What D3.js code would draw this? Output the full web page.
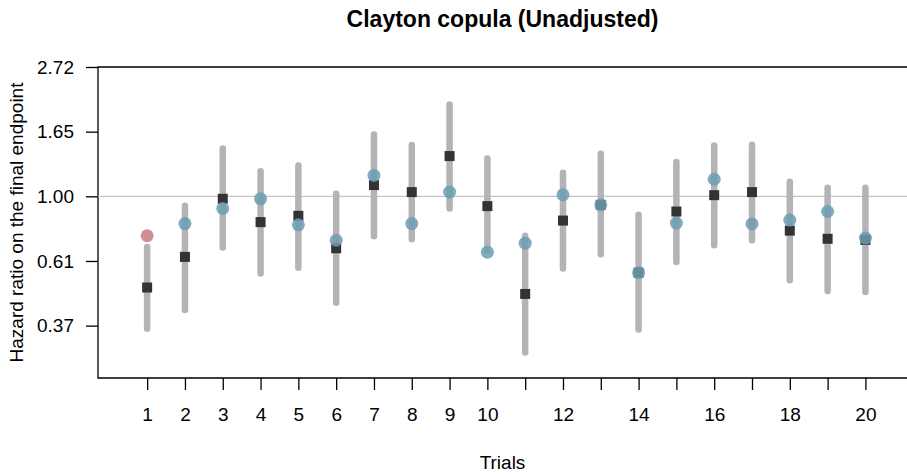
<!DOCTYPE html>
<html>
<head>
<meta charset="utf-8">
<script src="https://cdn.jsdelivr.net/npm/d3@7"></script>
<style>
  body { margin: 0; background: #fff; }
  svg { font-family: "Liberation Sans", Arial, sans-serif; }
</style>
</head>
<body>
<div id="chart"></div>
<script>
const trials = d3.range(1, 21)
const lower    = [0.359, 0.415, 0.673, 0.550, 0.576, 0.439, 0.735, 0.718, 0.910, 0.656, 0.299, 0.572, 0.639, 0.357, 0.602, 0.685, 0.712, 0.523, 0.481, 0.477]
const upper    = [0.676, 0.929, 1.448, 1.215, 1.269, 1.020, 1.613, 1.486, 2.035, 1.340, 0.737, 1.199, 1.390, 0.867, 1.303, 1.482, 1.490, 1.119, 1.068, 1.068]
const observed = [0.494, 0.626, 0.981, 0.819, 0.860, 0.669, 1.091, 1.033, 1.365, 0.927, 0.470, 0.829, 0.936, 0.554, 0.889, 1.009, 1.033, 0.767, 0.720, 0.714]
const predicted = [0.737, 0.810, 0.910, 0.981, 0.802, 0.712, 1.175, 0.810, 1.033, 0.649, 0.696, 1.012, 0.936, 0.554, 0.813, 1.141, 0.808, 0.832, 0.889, 0.724]
const outside = [1] // trials whose prediction is flagged in red
const yTicks = [-1, -0.5, 0, 0.5, 1]
const xLabels = [1, 2, 3, 4, 5, 6, 7, 8, 9, 10, 12, 14, 16, 18, 20]

const width = 907
const height = 475
const mLeft = 98, mRight = 907, mTop = 67, mBottom = 378
const fontFam = '"Liberation Sans", Arial, sans-serif'

const svg = d3.select('#chart').append('svg')
  .attr('width', width)
  .attr('height', height)

const x = d3.scaleLinear().domain([-0.3, 21.1]).range([mLeft, mRight])
// log hazard ratio scale
const y = d3.scaleLinear().domain([-1.405, 1]).range([mBottom, mTop])
const ly = v => y(Math.log(v))

// frame: left, top, bottom
svg.append('path')
  .attr('d', `M${mRight},${mTop}H${mLeft}V${mBottom}H${mRight}`)
  .attr('fill', 'none')
  .attr('stroke', '#000')
  .attr('stroke-width', 1.3)

svg.append('line')
  .attr('x1', mLeft).attr('x2', mRight)
  .attr('y1', ly(1)).attr('y2', ly(1))
  .attr('stroke', '#c4c4c4')
  .attr('stroke-width', 1.3)

const yAxis = d3.axisLeft(y)
  .tickValues(yTicks)
  .tickSize(12)
  .tickPadding(12)
  .tickFormat(d => Math.exp(d).toFixed(2))

svg.append('g')
  .attr('transform', `translate(${mLeft},0)`)
  .call(yAxis)
  .call(g => g.select('.domain').remove())
  .call(g => g.selectAll('line').attr('stroke-width', 1.3))
  .call(g => g.selectAll('text').attr('font-size', 19).attr('fill', '#000').attr('font-family', fontFam))

const xAxis = d3.axisBottom(x)
  .tickValues(trials)
  .tickSize(12)
  .tickPadding(18)
  .tickFormat(d => xLabels.includes(d) ? d : '')

svg.append('g')
  .attr('transform', `translate(0,${mBottom})`)
  .call(xAxis)
  .call(g => g.select('.domain').remove())
  .call(g => g.selectAll('line').attr('stroke-width', 1.3))
  .call(g => g.selectAll('text').attr('font-size', 19).attr('fill', '#000').attr('font-family', fontFam))

const data = trials.map((t, i) => ({
  trial: t, lo: lower[i], hi: upper[i], obs: observed[i], pred: predicted[i]
}))

const plot = svg.append('g')

plot.selectAll('line.ci')
  .data(data)
  .join('line')
  .attr('class', 'ci')
  .attr('x1', d => x(d.trial)).attr('x2', d => x(d.trial))
  .attr('y1', d => ly(d.lo)).attr('y2', d => ly(d.hi))
  .attr('stroke', '#b4b3b8')
  .attr('stroke-width', 6.5)
  .attr('stroke-linecap', 'round')

const sq = 10
plot.selectAll('rect.obs')
  .data(data)
  .join('rect')
  .attr('class', 'obs')
  .attr('x', d => x(d.trial) - sq / 2)
  .attr('y', d => ly(d.obs) - sq / 2)
  .attr('width', sq).attr('height', sq)
  .attr('fill', '#333333')

plot.selectAll('circle.pred')
  .data(data)
  .join('circle')
  .attr('class', 'pred')
  .attr('cx', d => x(d.trial))
  .attr('cy', d => ly(d.pred))
  .attr('r', 6.5)
  .attr('fill', d => outside.includes(d.trial) ? '#c47e80' : '#6a9db2')
  .attr('opacity', 0.85)

svg.append('text')
  .attr('x', (mLeft + mRight) / 2)
  .attr('y', 27)
  .attr('text-anchor', 'middle')
  .attr('font-size', 23)
  .attr('font-weight', 'bold')
  .text('Clayton copula (Unadjusted)')

svg.append('text')
  .attr('x', (mLeft + mRight) / 2)
  .attr('y', 469)
  .attr('text-anchor', 'middle')
  .attr('font-size', 19)
  .text('Trials')

svg.append('text')
  .attr('transform', `translate(23,${(mTop + mBottom) / 2}) rotate(-90)`)
  .attr('text-anchor', 'middle')
  .attr('font-size', 19)
  .text('Hazard ratio on the final endpoint')
</script>
</body>
</html>
